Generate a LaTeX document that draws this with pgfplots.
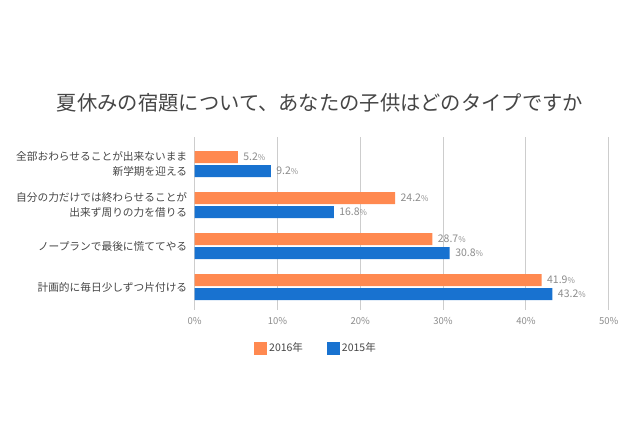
\documentclass[border=0pt]{standalone}
\usepackage{pgfplots}
\pgfplotsset{compat=1.18}
\usepackage{fontspec}
\setmainfont{Noto Sans CJK JP}
\definecolor{corange}{RGB}{255,137,80}
\definecolor{cblue}{RGB}{24,114,208}
\definecolor{ctext}{RGB}{70,70,70}
\definecolor{cgray}{RGB}{140,140,140}
\definecolor{cgrid}{RGB}{205,205,205}
\begin{document}
\begin{tikzpicture}[x=1pt,y=1pt]
\useasboundingbox[fill=white] (0,0) rectangle (640,426);
\node[font=\fontsize{20.3}{24}\selectfont, text=ctext] at (320,323) {夏休みの宿題について、あなたの子供はどのタイプですか};
\begin{axis}[
  at={(194.7pt,116pt)}, anchor=south west,
  scale only axis, width=414pt, height=173pt,
  xmin=0, xmax=50,
  ymin=-0.66, ymax=3.56, y dir=reverse,
  xbar, bar width=12pt,
  axis line style={draw=none},
  /pgf/number format/assume math mode=true,
  xmajorgrids, grid style={cgrid, line width=0.8pt},
  xtick={0,10,20,30,40,50},
  xticklabel={\pgfmathprintnumber{\tick}\%},
  xticklabel style={font=\fontsize{9.5}{10}\selectfont, text=cgray, yshift=-4pt},
  ytick={0,1,2,3},
  yticklabels={全部おわらせることが出来ないまま\\新学期を迎える, 自分の力だけでは終わらせることが\\出来ず周りの力を借りる, ノープランで最後に慌ててやる, 計画的に毎日少しずつ片付ける},
  yticklabel style={align=right, font=\fontsize{10.7}{15}\selectfont, text=ctext, xshift=-4pt},
  major tick length=0pt,
  nodes near coords={\pgfmathprintnumber[fixed,precision=1,fixed zerofill]{\pgfplotspointmeta}{\fontsize{8}{9}\selectfont\%}},
  nodes near coords style={font=\fontsize{10.5}{12}\selectfont, text=cgray, anchor=west, xshift=2pt},
  point meta=explicit,
  legend style={at={(0.293,-0.22)}, anchor=center, draw=none, font=\fontsize{10.5}{12}\selectfont, text=ctext, legend columns=2, /tikz/every even column/.append style={column sep=22pt}},
  legend image code/.code={\fill[#1] (0pt,-6.5pt) rectangle (13pt,6.5pt);},
  clip=false,
]
\addplot[fill=corange, draw=none, bar shift=7pt] coordinates {(5.2,0)[5.2] (24.2,1)[24.2] (28.7,2)[28.7] (41.9,3)[41.9]};
\addplot[fill=cblue, draw=none, bar shift=-7pt] coordinates {(9.2,0)[9.2] (16.8,1)[16.8] (30.8,2)[30.8] (43.2,3)[43.2]};
\legend{2016年, 2015年}
\end{axis}
\end{tikzpicture}
\end{document}
